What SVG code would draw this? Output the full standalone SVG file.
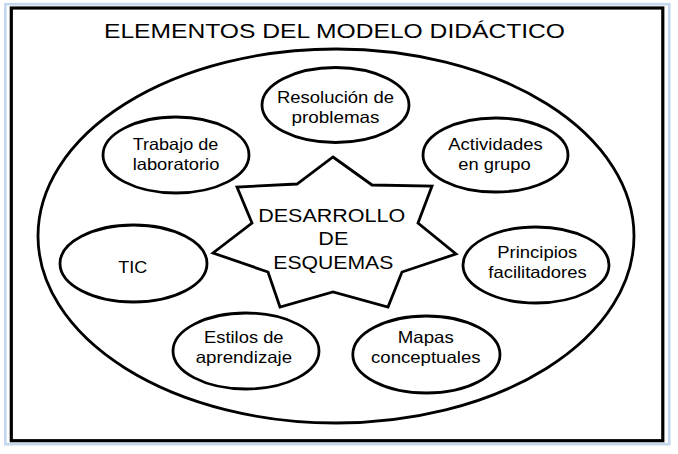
<svg xmlns="http://www.w3.org/2000/svg" width="678" height="454" viewBox="0 0 678 454">
<style>
.frame{fill:none;stroke:#c3d7ee;stroke-width:2.6}
.box{fill:#fff;stroke:#000;stroke-width:3.2}
.shape{fill:#fff;stroke:#000;stroke-width:2.8}
.big{fill:none;stroke:#000;stroke-width:2.8}
text{font-family:"Liberation Sans",Arial,sans-serif;fill:#000;text-anchor:middle}
.t{font-size:16.5px}
.s{font-size:19px}
.h{font-size:20.5px}
</style>
<rect width="678" height="454" fill="#fff"/>
<rect class="frame" x="5.3" y="4.2" width="664" height="440"/>
<rect class="box" x="11.3" y="8" width="651.5" height="432.7"/>
<text class="h" x="334.5" y="37.5" textLength="461" lengthAdjust="spacingAndGlyphs">ELEMENTOS DEL MODELO DIDÁCTICO</text>
<g id="outer"><ellipse class="big" cx="336" cy="236" rx="298" ry="187"/></g>
<g id="connectors"></g>
<g id="center">
<polygon class="shape" points="333,157 372,185 432,186 418,223 456,254 402,272 388,307 333,292 280,307 268,272 213,253 252,223 237,187 297,184"/>
<text class="s" x="331.7" y="221.7" textLength="147" lengthAdjust="spacingAndGlyphs">DESARROLLO</text>
<text class="s" x="333.3" y="245" textLength="30" lengthAdjust="spacingAndGlyphs">DE</text>
<text class="s" x="333.3" y="269" textLength="120" lengthAdjust="spacingAndGlyphs">ESQUEMAS</text>
</g>
<g id="resolucion">
<ellipse class="shape" cx="335.5" cy="105" rx="73.5" ry="37.5"/>
<text class="t" x="335.5" y="103" textLength="117" lengthAdjust="spacingAndGlyphs">Resolución de</text>
<text class="t" x="335.5" y="123" textLength="88" lengthAdjust="spacingAndGlyphs">problemas</text>
</g>
<g id="trabajo">
<ellipse class="shape" cx="176" cy="155" rx="73" ry="38"/>
<text class="t" x="175.5" y="150" textLength="85.7" lengthAdjust="spacingAndGlyphs">Trabajo de</text>
<text class="t" x="176" y="170" textLength="86.7" lengthAdjust="spacingAndGlyphs">laboratorio</text>
</g>
<g id="actividades">
<ellipse class="shape" cx="495.5" cy="155" rx="72.5" ry="37"/>
<text class="t" x="495.5" y="150" textLength="94.4" lengthAdjust="spacingAndGlyphs">Actividades</text>
<text class="t" x="494.5" y="170" textLength="72.3" lengthAdjust="spacingAndGlyphs">en grupo</text>
</g>
<g id="tic">
<ellipse class="shape" cx="133.5" cy="263.5" rx="73.5" ry="38.5"/>
<text class="t" x="132.8" y="273" textLength="29" lengthAdjust="spacingAndGlyphs">TIC</text>
</g>
<g id="principios">
<ellipse class="shape" cx="536" cy="265" rx="73" ry="38"/>
<text class="t" x="537.3" y="258" textLength="80" lengthAdjust="spacingAndGlyphs">Principios</text>
<text class="t" x="537.5" y="278" textLength="98.3" lengthAdjust="spacingAndGlyphs">facilitadores</text>
</g>
<g id="estilos">
<ellipse class="shape" cx="246" cy="351" rx="73" ry="38"/>
<text class="t" x="243.8" y="342.7" textLength="79.5" lengthAdjust="spacingAndGlyphs">Estilos de</text>
<text class="t" x="243.9" y="362.7" textLength="96.4" lengthAdjust="spacingAndGlyphs">aprendizaje</text>
</g>
<g id="mapas">
<ellipse class="shape" cx="426.4" cy="354.5" rx="73.6" ry="38.5"/>
<text class="t" x="425.8" y="342.7" textLength="56" lengthAdjust="spacingAndGlyphs">Mapas</text>
<text class="t" x="425.8" y="362.7" textLength="109.5" lengthAdjust="spacingAndGlyphs">conceptuales</text>
</g>
</svg>
